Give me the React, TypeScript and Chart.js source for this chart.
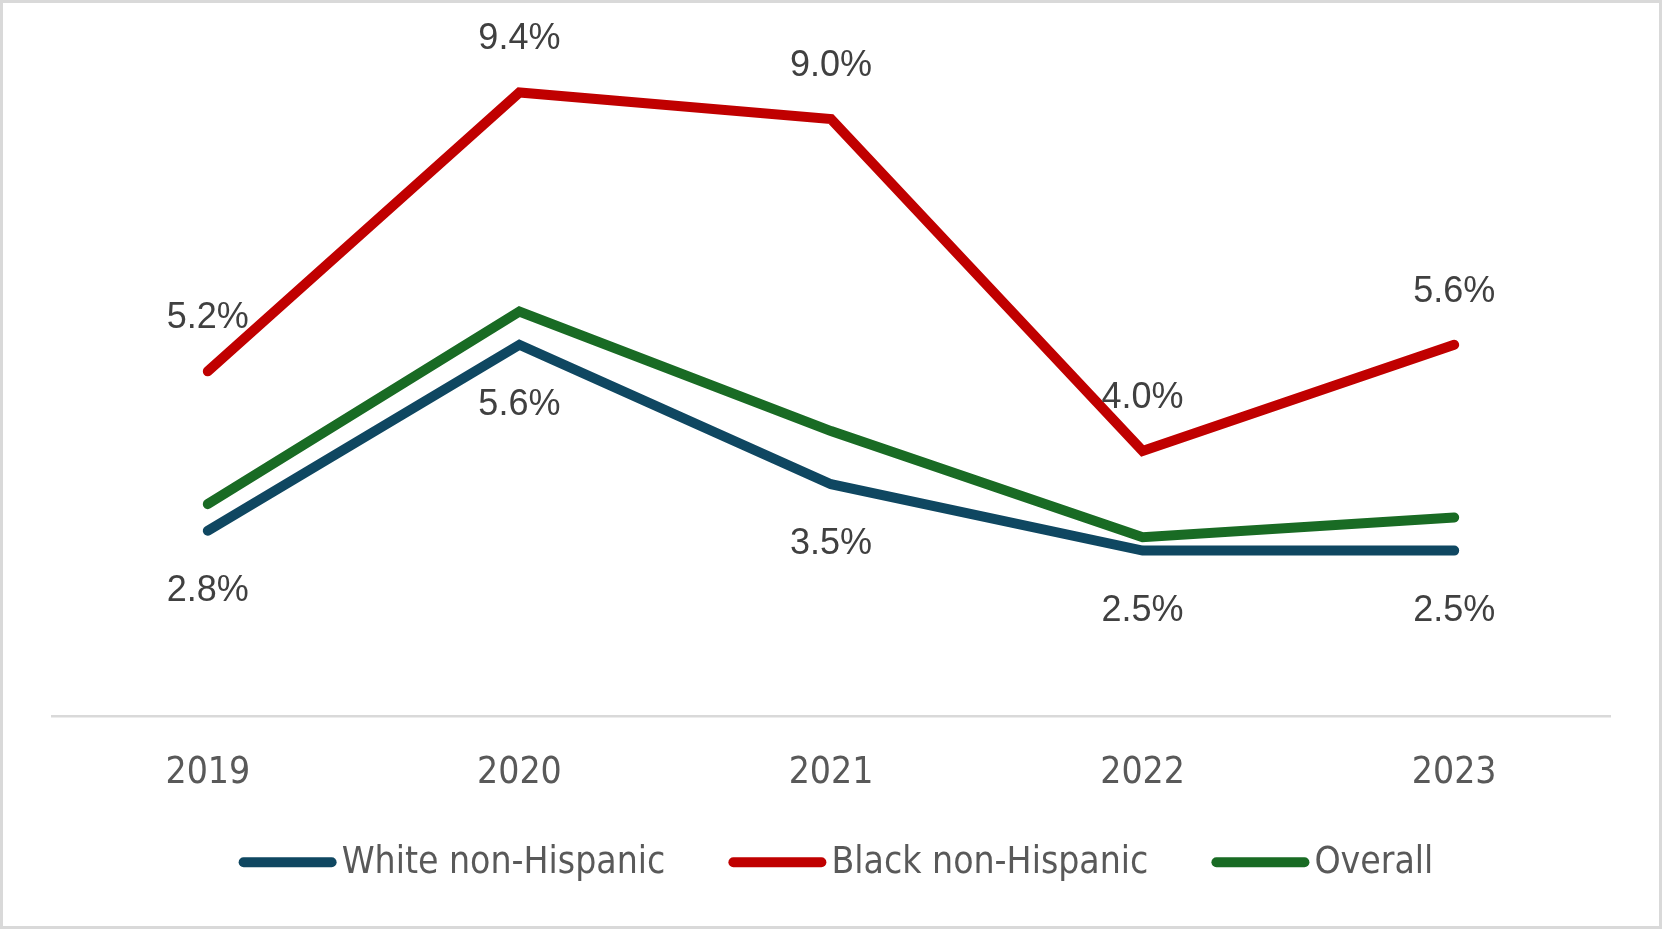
import React, { useEffect, useRef } from 'react';
import { Chart, registerables } from 'chart.js';

Chart.register(...registerables);

const years = ['2019', '2020', '2021', '2022', '2023'];
const whiteNonHispanic = [2.8, 5.6, 3.5, 2.5, 2.5];
const blackNonHispanic = [5.2, 9.4, 9.0, 4.0, 5.6];
const overall = [3.2, 6.1, 4.3, 2.7, 3.0];
const seriesNames = ['White non-Hispanic', 'Black non-Hispanic', 'Overall'];
const seriesColors = ['#0F4761', '#C00000', '#196B24'];
const labelPlacement = ['below', 'above', 'none'];

const NARROW = '"Liberation Sans Narrow", "DejaVu Sans Condensed", sans-serif';
const SANS = '"Liberation Sans", Arial, sans-serif';

const W = 1656;
const H = 923;

const dataLabelPlugin = {
  id: 'dataLabels',
  afterDatasetsDraw(chart: any) {
    const ctx = chart.ctx;
    ctx.save();
    ctx.font = `36px ${SANS}`;
    ctx.fillStyle = '#404040';
    ctx.textAlign = 'center';
    ctx.textBaseline = 'middle';
    chart.data.datasets.forEach((ds: any, i: number) => {
      const place = labelPlacement[i];
      if (place === 'none') return;
      const meta = chart.getDatasetMeta(i);
      meta.data.forEach((pt: any, j: number) => {
        const v = ds.data[j];
        const dy = place === 'above' ? -53 : 60;
        ctx.fillText(`${v.toFixed(1)}%`, pt.x, pt.y + dy);
      });
    });
    ctx.restore();
  },
};

const legendPlugin = {
  id: 'customLegend',
  afterDraw(chart: any) {
    const ctx = chart.ctx;
    ctx.save();
    ctx.font = `37px ${NARROW}`;
    const markerLen = 88;
    const lw = 10;
    const gapText = 5;
    const itemGap = 63;
    const widths = chart.data.datasets.map((ds: any) => ctx.measureText(ds.label).width);
    const items = widths.map((w: number) => lw + markerLen + gapText + w);
    const total = items.reduce((a: number, b: number) => a + b, 0) + itemGap * (items.length - 1);
    let x = W / 2 - total / 2 + 5;
    const y = 859.3;
    chart.data.datasets.forEach((ds: any, i: number) => {
      ctx.strokeStyle = ds.borderColor;
      ctx.lineWidth = lw;
      ctx.lineCap = 'round';
      ctx.beginPath();
      ctx.moveTo(x + lw / 2, y);
      ctx.lineTo(x + lw / 2 + markerLen, y);
      ctx.stroke();
      ctx.fillStyle = '#595959';
      ctx.textAlign = 'left';
      ctx.textBaseline = 'middle';
      ctx.fillText(ds.label, x + lw + markerLen + gapText, y + 1);
      x += items[i] + itemGap;
    });
    ctx.restore();
  },
};

export default function App() {
  const ref = useRef<HTMLCanvasElement | null>(null);

  useEffect(() => {
    document.body.style.margin = '0';
    if (!ref.current) return;
    const allSeries = [whiteNonHispanic, blackNonHispanic, overall];
    const chart = new Chart(ref.current, {
      type: 'line',
      data: {
        labels: years,
        datasets: allSeries.map((d, i) => ({
          label: seriesNames[i],
          data: d,
          borderColor: seriesColors[i],
          backgroundColor: seriesColors[i],
          borderWidth: 10,
          borderCapStyle: 'round',
          borderJoinStyle: 'miter',
          pointRadius: 0,
          pointHoverRadius: 0,
          tension: 0,
          fill: false,
        })),
      },
      options: {
        animation: false,
        responsive: false,
        devicePixelRatio: 1,
        layout: { padding: { left: 49, right: 49, top: 49.6, bottom: 0 } },
        plugins: {
          legend: { display: false },
          tooltip: { enabled: false },
        },
        scales: {
          x: {
            offset: true,
            grid: { display: false, drawTicks: false },
            border: { display: true, color: '#D9D9D9', width: 2.5 },
            ticks: {
              color: '#595959',
              font: { family: NARROW, size: 37 },
              padding: 35,
              maxRotation: 0,
            },
            afterFit: (axis: any) => {
              axis.height = 209.4;
            },
          },
          y: {
            display: false,
            min: 0,
            max: 10,
          },
        },
      } as any,
      plugins: [dataLabelPlugin, legendPlugin],
    });
    return () => chart.destroy();
  }, []);

  return (
    <div
      style={{
        width: 1662,
        height: 929,
        boxSizing: 'border-box',
        border: '3px solid #D9D9D9',
        background: '#FFFFFF',
      }}
    >
      <canvas ref={ref} width={W} height={H} style={{ display: 'block', width: W, height: H }} />
    </div>
  );
}
